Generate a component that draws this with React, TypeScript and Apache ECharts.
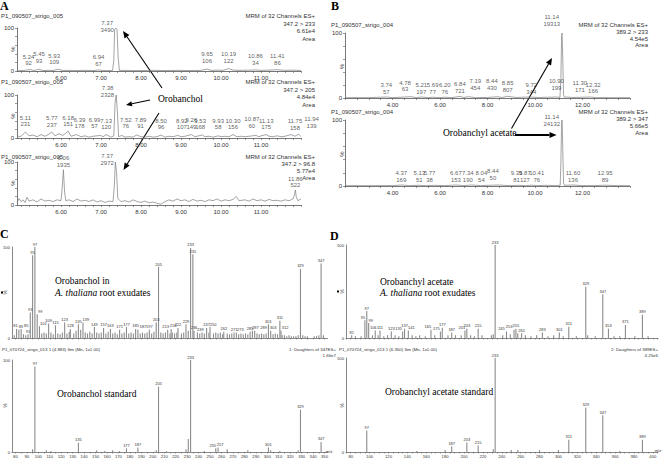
import React, { useEffect, useRef } from "react";
import * as echarts from "echarts";

const SANS = "'Liberation Sans', Arial, Helvetica, sans-serif";
const SERIF = "'Liberation Serif', 'Times New Roman', Times, serif";
const INK = "#333";
const TRACE = "#7d7d7d";
const STICK = "#8c8c8c";

// ---------- Panel A: MRM chromatograms (time min, relative %) ----------
const a1Trace = [
  [4.9, 0.5], [5.0, 1], [5.1, 1.5], [5.24, 3.5], [5.32, 1], [5.45, 4], [5.55, 1], [5.7, 1.5], [5.8, 1], [5.93, 4],
  [6.05, 1], [6.2, 1.5], [6.4, 1], [6.6, 1.5], [6.8, 1], [6.94, 2.5], [7.05, 1], [7.2, 1], [7.29, 1], [7.32, 25],
  [7.34, 96], [7.37, 100], [7.4, 97], [7.43, 30], [7.46, 1], [7.6, 1.5], [7.8, 1], [8.0, 1], [8.3, 1.5], [8.6, 1],
  [8.9, 1.5], [9.2, 1], [9.5, 1.5], [9.65, 4.5], [9.75, 1.5], [9.9, 2], [10.05, 1.5], [10.19, 5.5], [10.3, 2],
  [10.5, 1.5], [10.7, 2], [10.86, 2.5], [11.0, 1.5], [11.2, 2], [11.41, 3], [11.6, 1.5], [11.8, 2], [12.0, 1],
];
const a1Peaks = [
  [5.24, 7, 92], [5.45, 12, 93], [5.93, 9, 109], [6.94, 6, 67], [7.37, 100, 3490],
  [9.65, 12, 106], [10.19, 12, 122], [10.86, 8, 34], [11.41, 8, 86],
];

const a2Trace = [
  [4.9, 2], [5.0, 4], [5.11, 14], [5.2, 5], [5.3, 7], [5.4, 3], [5.5, 8], [5.6, 4], [5.7, 9], [5.77, 14], [5.85, 5],
  [5.95, 10], [6.05, 6], [6.18, 16], [6.25, 4], [6.39, 8], [6.5, 3], [6.6, 5], [6.7, 2], [6.8, 4], [6.99, 6], [7.05, 3],
  [7.13, 8], [7.25, 2], [7.32, 5], [7.35, 80], [7.38, 100], [7.41, 60], [7.44, 3], [7.52, 6], [7.6, 2], [7.7, 3],
  [7.8, 2], [7.89, 7], [8.0, 3], [8.1, 2], [8.2, 4], [8.3, 2], [8.4, 3], [8.5, 7], [8.6, 2], [8.7, 4], [8.8, 3],
  [8.92, 6], [9.0, 3], [9.1, 4], [9.26, 8], [9.35, 3], [9.53, 7], [9.6, 3], [9.7, 4], [9.8, 2], [9.93, 5], [10.0, 3],
  [10.1, 4], [10.2, 3], [10.3, 8], [10.4, 3], [10.5, 4], [10.6, 3], [10.7, 4], [10.87, 6], [10.95, 3], [11.0, 5],
  [11.13, 8], [11.2, 4], [11.3, 3], [11.4, 5], [11.5, 3], [11.6, 4], [11.75, 8], [11.85, 4], [11.94, 9], [12.0, 3],
];
const a2Peaks = [
  [5.11, 21, 231], [5.77, 19, 237], [6.18, 21, 151], [6.39, 16, 178], [6.99, 16, 57], [7.13, 14, 120],
  [7.38, 100, 2328], [7.52, 16, 76], [7.89, 16, 91], [8.5, 14, 96], [8.92, 14, 107], [9.26, 15, 149],
  [9.53, 14, 168], [9.93, 14, 58], [10.3, 14, 156], [10.87, 17, 60], [11.13, 14, 175], [11.75, 12, 158], [11.94, 17, 139],
];

const a3Trace = [
  [4.9, 5], [4.95, 15], [5.0, 8], [5.05, 12], [5.1, 6], [5.15, 18], [5.2, 9], [5.3, 12], [5.4, 7], [5.5, 14], [5.6, 9],
  [5.7, 11], [5.8, 8], [5.9, 12], [6.0, 10], [6.03, 40], [6.06, 82], [6.09, 30], [6.12, 10], [6.2, 12], [6.3, 8],
  [6.4, 14], [6.5, 9], [6.6, 11], [6.7, 8], [6.8, 12], [6.9, 7], [7.0, 10], [7.1, 6], [7.2, 9], [7.3, 8], [7.33, 40],
  [7.36, 100], [7.39, 75], [7.42, 15], [7.5, 8], [7.6, 10], [7.7, 7], [7.8, 12], [7.9, 8], [8.0, 6], [8.1, 9], [8.2, 5],
  [8.3, 7], [8.4, 4], [8.5, 2], [8.6, 8], [8.7, 12], [8.8, 9], [8.9, 14], [9.0, 10], [9.1, 12], [9.2, 8], [9.3, 13],
  [9.4, 9], [9.5, 11], [9.6, 8], [9.7, 12], [9.8, 10], [9.9, 14], [10.0, 9], [10.1, 12], [10.2, 10], [10.3, 13],
  [10.38, 20], [10.45, 10], [10.6, 12], [10.7, 9], [10.8, 14], [10.9, 10], [11.0, 12], [11.1, 9], [11.2, 13],
  [11.3, 10], [11.4, 11], [11.5, 9], [11.6, 12], [11.7, 10], [11.8, 14], [11.84, 25], [11.86, 35], [11.88, 20],
  [11.92, 10], [12.0, 14],
];
const a3Peaks = [[6.06, 82, 1935], [7.37, 100, 2972], [11.86, 35, 522]];

// ---------- Panel B: MRM chromatograms ----------
const b1Trace = [
  [2.0, 0.5], [3.0, 0.6], [3.74, 1.5], [4.0, 0.6], [4.78, 2], [5.0, 0.6], [5.21, 1.5], [5.5, 0.6], [5.69, 1.2],
  [6.0, 0.6], [6.2, 1.2], [6.5, 0.6], [6.84, 2.5], [7.0, 0.8], [7.19, 2], [7.5, 0.6], [8.0, 0.8], [8.44, 2], [8.6, 0.8],
  [8.85, 2.5], [9.2, 0.8], [9.72, 1.5], [10.2, 0.8], [10.9, 1.5], [11.05, 1], [11.09, 30], [11.12, 95], [11.14, 100],
  [11.17, 60], [11.2, 5], [11.24, 1], [11.3, 1.5], [11.6, 0.8], [12.32, 1.5], [12.6, 0.6], [13.2, 0.5], [14.0, 0.5],
];
const b1Peaks = [
  [3.74, 2, 57], [4.78, 6, 63], [5.21, 2, 197], [5.69, 2, 77], [6.2, 2, 76], [6.84, 4, 721], [7.19, 8, 454],
  [8.44, 8, 430], [8.85, 5, 807], [9.72, 2, 344], [10.9, 8, 199], [11.14, 100, 19313], [11.3, 5, 171], [12.32, 3, 166],
];
const b2Trace = [
  [2.0, 0.5], [3.0, 0.5], [4.0, 0.6], [4.37, 1.5], [4.7, 0.6], [5.13, 1], [5.4, 0.5], [5.77, 1], [6.2, 0.6],
  [6.67, 1.5], [7.0, 0.6], [7.34, 1.5], [7.7, 0.6], [8.04, 1], [8.44, 1.5], [8.9, 0.6], [9.35, 1], [9.6, 0.6],
  [9.87, 1.2], [10.1, 0.6], [10.41, 1], [10.9, 0.8], [11.06, 1], [11.09, 35], [11.12, 96], [11.14, 100], [11.17, 55],
  [11.2, 5], [11.24, 1], [11.6, 1.5], [12.0, 0.6], [12.5, 0.6], [12.95, 1.2], [13.5, 0.5], [14.0, 0.5],
];
const b2Peaks = [
  [4.37, 2, 169], [5.13, 2, 51], [5.77, 2, 38], [6.67, 2, 153], [7.34, 2, 190], [8.04, 2, 54], [8.44, 5, 50],
  [9.35, 2, 81], [9.87, 2, 127], [10.41, 2, 76], [11.14, 100, 24132], [11.6, 2, 136], [12.95, 2, 89],
];

// ---------- Panel C / D: product-ion spectra (m/z, relative %) ----------
const c1Labeled = [
  [81, 10], [83, 9], [85, 10], [91, 4], [93, 28], [95, 91], [97, 100], [99, 26], [101, 13], [109, 16], [115, 14],
  [123, 17], [128, 10], [135, 15], [139, 17], [149, 12], [157, 11], [163, 10], [171, 9], [177, 12], [185, 10],
  [187, 9], [197, 9], [203, 17], [205, 78], [213, 9], [216, 10], [222, 11], [229, 15], [233, 99], [235, 92],
  [236, 8], [239, 6], [247, 11], [250, 12], [262, 7], [271, 6], [273, 6], [285, 7], [287, 8], [289, 8], [301, 15],
  [303, 8], [311, 19], [312, 8], [329, 76], [347, 82],
];
const c1Minor = [
  [79, 3], [87, 4], [89, 3], [103, 5], [105, 6], [107, 5], [111, 6], [113, 4], [117, 5], [119, 4], [121, 6], [125, 5],
  [127, 7], [131, 5], [133, 8], [137, 9], [141, 6], [143, 5], [145, 7], [147, 5], [151, 6], [153, 5], [155, 6],
  [159, 5], [161, 7], [165, 5], [167, 6], [169, 4], [173, 5], [175, 6], [179, 5], [181, 6], [183, 5], [189, 5],
  [191, 6], [193, 5], [195, 6], [199, 5], [201, 7], [207, 6], [209, 5], [211, 6], [215, 5], [217, 6], [219, 5],
  [221, 6], [225, 5], [227, 6], [231, 8], [241, 5], [243, 6], [245, 5], [249, 6], [253, 5], [255, 6], [257, 5],
  [259, 6], [261, 4], [265, 5], [267, 4], [269, 5], [275, 4], [277, 5], [279, 4], [281, 5], [283, 4], [291, 5],
  [293, 4], [295, 5], [297, 4], [299, 5], [305, 4], [307, 5], [309, 4], [313, 3], [315, 3], [317, 2], [319, 3],
  [321, 2], [323, 2], [325, 2], [327, 3], [331, 3], [333, 2], [335, 2], [341, 2], [343, 2], [345, 3], [349, 3],
];
const c2Labeled = [
  [97, 93], [135, 10], [177, 4], [187, 5], [205, 71], [233, 100], [255, 4], [257, 5], [301, 5], [329, 46], [347, 11],
];
const c2Minor = [
  [95, 3], [107, 2], [111, 1], [151, 2], [158, 1], [165, 2], [171, 1], [203, 2], [212, 1], [229, 3], [231, 14],
  [245, 1], [265, 3], [283, 2], [303, 2], [311, 1], [327, 2],
];
const d1Labeled = [
  [81, 3], [95, 19], [97, 29], [99, 16], [106, 8], [111, 8], [123, 7], [135, 7], [137, 10], [141, 8], [165, 9],
  [175, 7], [177, 11], [187, 6], [201, 8], [203, 10], [215, 10], [233, 100], [245, 7], [253, 9], [255, 10], [261, 5],
  [283, 6], [301, 6], [311, 12], [329, 55], [347, 47], [353, 10], [371, 14], [389, 25],
];
const d1Minor = [
  [85, 2], [91, 2], [103, 3], [109, 3], [115, 2], [119, 3], [127, 3], [131, 2], [145, 3], [149, 2], [153, 3],
  [159, 2], [169, 3], [183, 3], [191, 3], [197, 3], [207, 3], [211, 2], [219, 3], [229, 3], [231, 4], [241, 3],
  [249, 4], [257, 5], [265, 3], [271, 2], [277, 3], [289, 2], [295, 3], [305, 2], [319, 2], [331, 3], [339, 2],
  [359, 2], [365, 2], [381, 2], [395, 2],
];
const d2Labeled = [
  [97, 23], [187, 6], [203, 10], [215, 7], [233, 100], [311, 13], [329, 47], [347, 39], [389, 13],
];
const d2Minor = [
  [150, 1], [180, 2], [231, 3], [250, 2], [257, 2], [280, 2], [300, 2], [365, 1],
];

// ---------- axis tick labels ----------
const aTimeLabels = [6, 7, 8, 9, 10, 11];
const bTimeLabels = [4, 6, 8, 10, 12];
const cMzLabels = [80, 90, 100, 110, 120, 130, 140, 150, 160, 170, 180, 190, 200, 210, 220, 230, 240, 250, 260, 270, 280, 290, 300, 310, 320, 330, 340, 350];
const dMzLabels = [80, 100, 120, 140, 160, 180, 200, 220, 240, 260, 280, 300, 320, 340, 360, 380, 400];

// ---------- layout (pixels) ----------
const grids = [
  { left: 17, top: 28, width: 284, height: 43 },   // A1
  { left: 17, top: 95, width: 284, height: 43 },   // A2
  { left: 17, top: 162, width: 284, height: 43 },  // A3
  { left: 345, top: 33, width: 285, height: 65 },  // B1
  { left: 345, top: 120, width: 285, height: 66 }, // B2
  { left: 10, top: 247, width: 317.5, height: 91 },// C1
  { left: 10, top: 360, width: 317.5, height: 92 },// C2
  { left: 346, top: 245, width: 312, height: 93 }, // D1
  { left: 346, top: 358, width: 312, height: 94 }, // D2
];

// label nudges (px) to keep the crowded peak labels apart, as in the original
const a1Shift: Record<string, number> = { "5.93": -4, "5.24": -2 };
const a2Shift: Record<string, number> = { "6.39": 3, "6.99": -6, "7.52": 4, "7.89": 4, "8.92": 4, "9.53": -2, "10.87": -4, "11.75": 4, "11.94": 13 };
const b1Shift: Record<string, number> = { "4.78": -6, "7.19": 7, "8.44": -6, "9.72": 3, "11.3": 14, "12.32": 3 };
const b2Shift: Record<string, number> = { "5.77": -5, "7.34": -4, "8.04": -7, "8.44": -5, "9.35": -3, "9.87": -7, "10.41": -8 };
const c1Shift: Record<string, number> = { "81": -1, "83": 2, "85": 5, "99": 3, "101": 4, "139": 3, "187": 5, "213": -2, "216": 2, "239": 3, "250": 3, "273": 4, "287": 3, "289": 9, "303": 2.5, "312": 4 };
const c2Shift: Record<string, number> = { "255": -3, "257": 2 };
const d1Shift: Record<string, number> = { "95": -2, "99": 2, "106": -2, "135": -4, "141": 3, "165": -3, "175": -4, "201": -3, "245": -5, "253": -5 };

const LABEL_FS = 6;
const LABEL_LH = 6.6;

function range(a: number, b: number, step: number) {
  const out: number[] = [];
  for (let v = a; v <= b + 1e-9; v += step) out.push(Math.round(v * 100) / 100);
  return out;
}

function chromAxes(i: number, min: number, max: number, labels: number[], tickStep: number) {
  const x = {
    gridIndex: i, type: "value", min, max,
    axisLine: { show: true, onZero: false, lineStyle: { color: "#555", width: 0.8 } },
    axisTick: { show: true, customValues: range(Math.ceil(min / tickStep) * tickStep, max, tickStep), length: 2, lineStyle: { color: "#555", width: 0.6 } },
    axisLabel: { show: true, customValues: labels, formatter: (v: number) => v.toFixed(2), fontSize: 6, color: INK, fontFamily: SANS, margin: 4 },
    splitLine: { show: false },
  };
  const y = {
    gridIndex: i, type: "value", min: 0, max: 100,
    axisLine: { show: true, lineStyle: { color: "#555", width: 0.8 } },
    axisTick: { show: true, customValues: [0, 20, 40, 60, 80, 100], length: 2, lineStyle: { color: "#555", width: 0.6 } },
    axisLabel: { show: true, customValues: [0, 100], fontSize: 6, color: INK, fontFamily: SANS, margin: 3 },
    splitLine: { show: false },
  };
  return { x, y };
}

function specAxes(i: number, min: number, max: number, labels: number[] | null, tickStep: number) {
  const x = {
    gridIndex: i, type: "value", min, max,
    axisLine: { show: true, onZero: false, lineStyle: { color: "#555", width: 0.7 } },
    axisTick: { show: true, customValues: range(Math.ceil(min / tickStep) * tickStep, max, tickStep), length: 1.5, lineStyle: { color: "#555", width: 0.5 } },
    axisLabel: labels ? { show: true, customValues: labels, fontSize: 4.2, color: INK, fontFamily: SANS, margin: 2 } : { show: false },
    splitLine: { show: false },
  };
  const y = {
    gridIndex: i, type: "value", min: 0, max: 100,
    axisLine: { show: true, lineStyle: { color: "#555", width: 0.7 } },
    axisTick: { show: false },
    axisLabel: { show: true, customValues: [0, 100], fontSize: 4.2, color: INK, fontFamily: SANS, margin: 2 },
    splitLine: { show: false },
  };
  return { x, y };
}

function chromSeries(i: number, trace: number[][], peaks: number[][], shift: Record<string, number>, topOffset: number) {
  return [
    {
      type: "line", xAxisIndex: i, yAxisIndex: i, data: trace, symbol: "none", silent: true,
      lineStyle: { color: TRACE, width: 0.7 }, z: 2,
    },
    {
      type: "scatter", xAxisIndex: i, yAxisIndex: i, symbolSize: 1, silent: true,
      itemStyle: { color: "rgba(0,0,0,0)" }, z: 3,
      data: peaks.map((p) => {
        const key = String(p[0]);
        const isTop = p[1] >= 99;
        const chars = Math.max(p[0].toFixed(2).length, String(p[2]).length);
        const half = (chars * LABEL_FS * 0.556) / 2;
        return {
          value: [p[0], p[1]],
          area: p[2],
          label: isTop
            ? { show: true, position: "top", distance: 0, offset: [-(half + 2), LABEL_LH + topOffset], color: INK }
            : { show: true, position: "top", distance: 1, offset: [shift[key] || 0, 0], color: INK },
        };
      }),
      label: {
        show: true, fontSize: LABEL_FS, lineHeight: LABEL_LH, color: INK, fontFamily: SANS,
        formatter: (p: any) => `${p.data.value[0].toFixed(2)}\n${p.data.area}`,
      },
    },
  ];
}

function specSeries(i: number, labeled: number[][], minor: number[][], shift: Record<string, number> = {}) {
  return {
    type: "bar", xAxisIndex: i, yAxisIndex: i, barWidth: 1.1, silent: true,
    itemStyle: { color: STICK }, z: 2,
    data: [
      ...minor.map((d) => ({ value: [d[0], d[1]], label: { show: false } })),
      ...labeled.map((d) => ({
        value: [d[0], d[1]],
        label: { show: true, color: "#333333", offset: [shift[String(d[0])] || 0, 0] },
      })),
    ],
    label: {
      show: false, position: "top", distance: 1, fontSize: 4, color: "#333333", fontFamily: SANS,
      textBorderWidth: 0,
      formatter: (p: any) => String(p.value[0]),
    },
  };
}

function txt(x: number, y: number, text: string, opt: any = {}) {
  return {
    type: "text", x, y, silent: true, rotation: opt.rotation || 0,
    style: {
      text, fontSize: opt.size || 6, fontFamily: opt.font || SANS, fill: opt.fill || INK,
      fontWeight: opt.weight || "normal", fontStyle: opt.style || "normal",
      align: opt.align || "left", verticalAlign: "middle", rich: opt.rich,
    },
  };
}

function arrow(x1: number, y1: number, x2: number, y2: number, w = 1, head = 6) {
  const a = Math.atan2(y2 - y1, x2 - x1);
  const c = Math.cos(a), s = Math.sin(a);
  const bx = x2 - head * c, by = y2 - head * s;
  const hw = head * 0.42;
  return [
    { type: "line", silent: true, shape: { x1, y1, x2: bx, y2: by }, style: { stroke: "#000", lineWidth: w } },
    { type: "polygon", silent: true, shape: { points: [[x2, y2], [bx - s * hw, by + c * hw], [bx + s * hw, by - c * hw]] }, style: { fill: "#000" } },
  ];
}

export default function App() {
  const ref = useRef<HTMLDivElement>(null);
  useEffect(() => {
    if (!ref.current) return;
    const chart = echarts.init(ref.current, null, { renderer: "svg" });

    const axes = [
      chromAxes(0, 4.9, 12.0, aTimeLabels, 0.2),
      chromAxes(1, 4.9, 12.0, aTimeLabels, 0.2),
      chromAxes(2, 4.9, 12.0, aTimeLabels, 0.2),
      chromAxes(3, 2, 14, bTimeLabels, 0.5),
      chromAxes(4, 2, 14, bTimeLabels, 0.5),
      specAxes(5, 77, 352.6, null, 5),
      specAxes(6, 77, 352.6, cMzLabels, 5),
      specAxes(7, 75, 405.5, null, 5),
      specAxes(8, 75, 405.5, dMzLabels, 5),
    ];

    const serif10 = { font: SERIF, size: 9.5, fill: "#000" };
    const rich = { i: { fontStyle: "italic", fontFamily: SERIF, fontSize: 9.5, fill: "#000" } };
    const graphics: any[] = [
      // panel letters
      txt(0, 6, "A", { font: SERIF, size: 12, weight: "bold", fill: "#000" }),
      txt(331, 6, "B", { font: SERIF, size: 12, weight: "bold", fill: "#000" }),
      txt(0, 234, "C", { font: SERIF, size: 12, weight: "bold", fill: "#000" }),
      txt(330, 236, "D", { font: SERIF, size: 12, weight: "bold", fill: "#000" }),
      // A headers
      txt(1, 16, "P1_090507_strigo_005"),
      txt(315, 15.5, "MRM of 32 Channels ES+", { align: "right" }),
      txt(315, 23.5, "347.2 > 233", { align: "right" }),
      txt(315, 31, "6.61e4", { align: "right" }),
      txt(315, 38.5, "Area", { align: "right" }),
      txt(1, 82, "P1_090507_strigo_005"),
      txt(315, 82, "MRM of 32 Channels ES+", { align: "right" }),
      txt(315, 89.5, "347.2 > 205", { align: "right" }),
      txt(315, 97, "4.84e4", { align: "right" }),
      txt(315, 104.5, "Area", { align: "right" }),
      txt(1, 157, "P1_090507_strigo_005"),
      txt(315, 157, "MRM of 32 Channels ES+", { align: "right" }),
      txt(315, 164, "347.2 > 96.8", { align: "right" }),
      txt(315, 171, "5.77e4", { align: "right" }),
      txt(315, 178, "Area", { align: "right" }),
      txt(13, 49, "%", { rotation: Math.PI / 2, align: "center" }),
      txt(13, 116, "%", { rotation: Math.PI / 2, align: "center" }),
      txt(13, 183, "%", { rotation: Math.PI / 2, align: "center" }),
      // B headers
      txt(331, 24.7, "P1_090507_strigo_004"),
      txt(648, 24.7, "MRM of 32 Channels ES+", { align: "right" }),
      txt(648, 31.7, "389.2 > 233", { align: "right" }),
      txt(648, 38.5, "4.54e5", { align: "right" }),
      txt(648, 45.3, "Area", { align: "right" }),
      txt(331, 111.7, "P1_090507_strigo_004"),
      txt(648, 111.7, "MRM of 32 Channels ES+", { align: "right" }),
      txt(648, 119, "389.2 > 347", { align: "right" }),
      txt(648, 126, "5.66e5", { align: "right" }),
      txt(648, 132.7, "Area", { align: "right" }),
      txt(341.5, 66.5, "%", { rotation: Math.PI / 2, align: "center" }),
      txt(341.5, 154, "%", { rotation: Math.PI / 2, align: "center" }),
      // C / D headers
      txt(2, 349.8, "P1_070724_strigo_013 1 (4.883) Sm (Mn, 1x1.00)", { size: 4.4 }),
      txt(336, 349.5, "1: Daughters of 347ES+", { size: 4.4, align: "right" }),
      txt(336, 355.3, "1.66e7", { size: 4.4, align: "right" }),
      txt(339, 349.8, "P1_070724_strigo_013 1 (6.350) Sm (Mn, 1x1.00)", { size: 4.4 }),
      txt(658, 349.5, "2: Daughters of 389ES+", { size: 4.4, align: "right" }),
      txt(658, 355.3, "4.25e6", { size: 4.4, align: "right" }),
      txt(5.5, 292.5, "%", { rotation: Math.PI / 2, align: "center", size: 4.5 }),
      { type: "rect", silent: true, shape: { x: 1, y: 291.5, width: 2, height: 2 }, style: { fill: "#000" } },
      txt(5.5, 405.5, "%", { rotation: Math.PI / 2, align: "center", size: 4.5 }),
      txt(342, 291.5, "%", { rotation: Math.PI / 2, align: "center", size: 4.5 }),
      { type: "rect", silent: true, shape: { x: 337, y: 290.5, width: 2, height: 2 }, style: { fill: "#000" } },
      txt(342, 405.5, "%", { rotation: Math.PI / 2, align: "center", size: 4.5 }),
      txt(329, 451, "m/z", { size: 4.2, align: "center" }),
      txt(658, 450.5, "m/z", { size: 4.2, align: "center" }),
      // annotations
      txt(158, 99, "Orobanchol", serif10),
      txt(443, 133, "Orobanchyl acetate", serif10),
      txt(55, 281, "Orobanchol in", serif10),
      { ...txt(55, 293, "{i|A. thaliana} root exudates", { ...serif10, rich }) },
      txt(57, 394, "Orobanchol standard", serif10),
      txt(380, 282, "Orobanchyl acetate", serif10),
      { ...txt(380, 292.5, "{i|A. thaliana} root exudates", { ...serif10, rich }) },
      txt(385, 392, "Orobanchyl acetate standard", serif10),
      // arrows
      ...arrow(162, 88, 123, 31, 1.1, 7),
      ...arrow(150, 100, 126, 105, 1.1, 6),
      ...arrow(159, 113, 123.5, 170, 1.1, 7),
      ...arrow(511.5, 128.5, 552, 58, 1.1, 7),
      ...arrow(515, 135, 556.5, 135, 2, 7),
    ];

    const option: any = {
      animation: false,
      backgroundColor: "#fff",
      grid: grids.map((g) => ({ ...g, containLabel: false })),
      xAxis: axes.map((a) => a.x),
      yAxis: axes.map((a) => a.y),
      series: [
        ...chromSeries(0, a1Trace, a1Peaks, a1Shift, -1),
        ...chromSeries(1, a2Trace, a2Peaks, a2Shift, -3),
        ...chromSeries(2, a3Trace, a3Peaks, {}, -2),
        ...chromSeries(3, b1Trace, b1Peaks, b1Shift, -12),
        ...chromSeries(4, b2Trace, b2Peaks, b2Shift, 1),
        specSeries(5, c1Labeled, c1Minor, c1Shift),
        specSeries(6, c2Labeled, c2Minor, c2Shift),
        specSeries(7, d1Labeled, d1Minor, d1Shift),
        specSeries(8, d2Labeled, d2Minor),
      ],
      graphic: graphics,
    };
    chart.setOption(option);
    return () => chart.dispose();
  }, []);

  return (
    <div
      ref={ref}
      style={{ position: "fixed", left: 0, top: 0, width: 662, height: 461, background: "#fff" }}
    />
  );
}
